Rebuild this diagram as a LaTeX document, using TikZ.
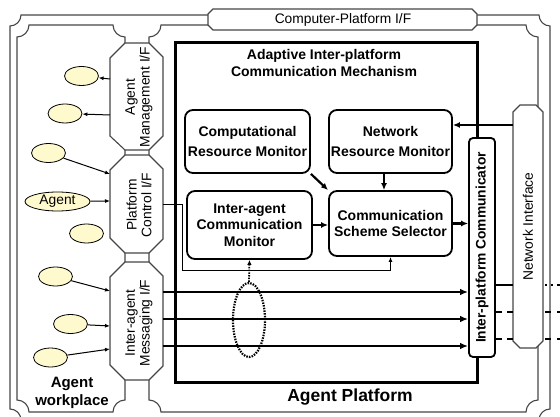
\documentclass[tikz,border=0pt]{standalone}
\usepackage{fontspec}
\setmainfont{Liberation Sans}
\usetikzlibrary{arrows.meta,shapes.geometric}
\definecolor{agentfill}{RGB}{255,250,205}
\definecolor{framegray}{RGB}{70,70,70}
\begin{document}
\begin{tikzpicture}[x=1pt,y=-1pt,
  wall/.style={draw=framegray,line width=1.1pt},
  iface/.style={draw=framegray,line width=1.1pt,fill=white},
  box/.style={draw,line width=1.8pt,rounded corners=8pt,fill=white,align=center,inner sep=0pt,font=\bfseries\fontsize{14}{19.5}\selectfont},
  agent/.style={ellipse,draw,line width=0.8pt,fill=agentfill,inner sep=0pt,minimum width=34pt,minimum height=19pt},
  lbl/.style={inner sep=0pt,align=center,font=\fontsize{13.8}{14.8}\selectfont},
  blbl/.style={inner sep=0pt,align=center,font=\bfseries\fontsize{13.8}{16}\selectfont},
  sarrow/.style={line width=1pt,-{Latex[length=5pt,width=4pt]}},
  barrow/.style={line width=2.2pt,-{Latex[length=7pt,width=6pt]}},
  marrow/.style={line width=2.6pt,-{Latex[length=8pt,width=6.5pt]}},
  stub/.style={line width=2.6pt},
  dotline/.style={line width=2.2pt,dash pattern=on 1.5pt off 1.2pt}
]
\useasboundingbox (0,0) rectangle (560,417);
\clip (0,0) rectangle (560,417);

% outer computer frame
\draw[wall] (21,15) -- (539,15) .. controls (539,21) and (544,26) .. (550,26) -- (550,409) .. controls (544,409) and (539,414) .. (539,420) -- (21,420) .. controls (21,414) and (16,409) .. (10,409) -- (10,26) .. controls (16,26) and (21,21) .. (21,15) -- cycle;
% agent workplace
\draw[wall] (29,25) -- (113,25) .. controls (113,31.6) and (118.4,37) .. (125,37) -- (125,400) .. controls (118.4,400) and (113,405.4) .. (113,412) -- (29,412) .. controls (29,405.4) and (23.6,400) .. (17,400) -- (17,37) .. controls (23.6,37) and (29,31.6) .. (29,25) -- cycle;
% agent platform
\draw[wall] (161,25) -- (526,25) .. controls (526,31.6) and (531.4,37) .. (538,37) -- (538,400) .. controls (531.4,400) and (526,405.4) .. (526,412) -- (161,412) .. controls (161,405.4) and (155.6,400) .. (149,400) -- (149,37) .. controls (155.6,37) and (161,31.6) .. (161,25) -- cycle;

% computer-platform I/F tab
\draw[iface] (213,9) -- (472,9) -- (477,14) -- (477,25) -- (472,30) -- (213,30) -- (208,25) -- (208,14) -- cycle;
\node[lbl] (cpif) at (343,19.5) {Computer-Platform I/F};

% network interface
\draw[iface] (520,105) -- (536,105) -- (543,112) -- (543,341) -- (536,348) -- (520,348) -- (513,341) -- (513,112) -- cycle;
\node[inner sep=0pt,minimum width=30pt,minimum height=243pt] (ni) at (528,226.5) {};
\node[lbl,rotate=90] (nilbl) at (ni.center) {Network Interface};

% left interfaces
\draw[iface] (125,43) -- (149,43) -- (163,57) -- (163,136) -- (149,150) -- (125,150) -- (110,136) -- (110,58) -- cycle;
\draw[iface] (125,155) -- (149,155) -- (163,169) -- (163,239) -- (149,253) -- (125,253) -- (110,238) -- (110,170) -- cycle;
\draw[iface] (125,262) -- (149,262) -- (163,276) -- (163,366) -- (149,380) -- (125,380) -- (110,365) -- (110,277) -- cycle;
\node[lbl,rotate=90] (lmgmt) at (139,97) {Agent\\Management I/F};
\node[lbl,rotate=90] (lctl) at (139,205) {Platform\\Control I/F};
\node[lbl,rotate=90] (lmsg) at (139,323) {Inter-agent\\Messaging I/F};

% mechanism frame
\draw[line width=3pt] (477,145) -- (477,43) -- (175,43) -- (175,382) -- (477,382) -- (477,350);
\node[blbl,font=\bfseries\fontsize{14}{17}\selectfont] (title) at (324,63) {Adaptive Inter-platform\\Communication Mechanism};

% communicator
\node[draw,line width=1.8pt,rounded corners=4pt,fill=white,inner sep=0pt,minimum width=26pt,minimum height=219pt] (comm) at (482,247.5) {};
\node[blbl,rotate=90] (commlbl) at (comm.center) {Inter-platform Communicator};

% boxes
\node[box,minimum width=125pt,minimum height=63pt] (crm) at (247.5,141.5) {Computational\\Resource Monitor};
\node[box,minimum width=123pt,minimum height=63pt] (nrm) at (390.5,141.5) {Network\\Resource Monitor};
\node[box,minimum width=125pt,minimum height=68pt,font=\bfseries\fontsize{14}{16.5}\selectfont] (iacm) at (249.5,225) {Inter-agent\\Communication\\Monitor};
\node[box,minimum width=123pt,minimum height=65pt,font=\bfseries\fontsize{14}{16}\selectfont] (css) at (390.5,223.5) {Communication\\Scheme Selector};

% coordinates
\coordinate (m1) at (110,79);
\coordinate (m2) at (110,115);
\coordinate (c1) at (110,174);
\coordinate (c2) at (110,201);
\coordinate (s1) at (110,291);
\coordinate (s2) at (110,326);
\coordinate (s3) at (110,349);
\coordinate (pc1) at (163,205);
\coordinate (ms1) at (163,292);
\coordinate (ms2) at (163,319);
\coordinate (ms3) at (163,346);
\coordinate (r1) at (0,285);
\coordinate (r2) at (0,312);
\coordinate (r3) at (0,339);
\coordinate (n1) at (0,125);
\coordinate (v1) at (384,0);
\coordinate (edge) at (565,0);

% agents
\node[agent] (e1) at (81.5,76) {};
\node[agent] (e2) at (65,113.5) {};
\node[agent] (e3) at (48.5,153) {};
\node[agent,minimum width=65pt,font=\fontsize{13.8}{15}\selectfont] (ag) at (57.5,201.5) {Agent};
\node[agent] (e5) at (86.5,233.5) {};
\node[agent] (e6) at (55.5,276.5) {};
\node[agent] (e7) at (70.5,324) {};
\node[agent] (e8) at (50.5,357.5) {};

\draw[sarrow] (m1) -- (e1);
\draw[sarrow] (m2) -- (e2);
\draw[sarrow] (e3) -- (c1);
\draw[sarrow] (ag) -- (c2);
\draw[sarrow] (e6) -- (s1);
\draw[sarrow] (e7) -- (s2);
\draw[sarrow] (e8) -- (s3);

% messaging lines
\draw[marrow] (ms1) -- (ms1 -| comm.west);
\draw[marrow] (ms2) -- (ms2 -| comm.west);
\draw[marrow] (ms3) -- (ms3 -| comm.west);

% dotted monitor tap
\node[ellipse,draw,dotline,inner sep=0pt,minimum width=32pt,minimum height=74pt] (dots) at (249,320) {};
\draw[dotline,line width=1.8pt,-{Latex[length=5pt,width=4.5pt]}] (dots.north) -- (iacm.south);

% internal arrows
\draw[barrow] (ni.west |- n1) -- (nrm.east |- n1);
\draw[barrow] (nrm.south -| v1) -- (css.north -| v1);
\draw[barrow] (crm.south east) -- (css.north west);
\draw[barrow] (iacm.east) -- (iacm.east -| css.west);
\draw[barrow] (css.east) -- (css.east -| comm.west);
\draw[sarrow] (pc1) -| (182,270) -| (css.south);

% links to network
\draw[stub] (comm.east |- r1) -- (ni.west |- r1);
\draw[stub,dash pattern=on 0pt off 2pt on 2pt off 4pt on 2pt off 4pt on 12pt] (ni.east |- r1) -- (edge |- r1);
\draw[stub,dash pattern=on 6pt off 5pt on 8pt] (comm.east |- r2) -- (ni.west |- r2);
\draw[stub,dash pattern=on 0pt off 2pt on 6pt off 6pt on 12pt] (ni.east |- r2) -- (edge |- r2);
\draw[stub,dash pattern=on 6pt off 5pt on 8pt] (comm.east |- r3) -- (ni.west |- r3);
\draw[stub,dash pattern=on 0pt off 2pt on 6pt off 6pt on 12pt] (ni.east |- r3) -- (edge |- r3);

% region labels
\node[inner sep=0pt,font=\bfseries\fontsize{17.5}{20}\selectfont] (aplat) at (350,397) {Agent Platform};
\node[inner sep=0pt,align=center,font=\bfseries\fontsize{15}{18}\selectfont] (awp) at (72,393) {Agent\\workplace};
\end{tikzpicture}
\end{document}
